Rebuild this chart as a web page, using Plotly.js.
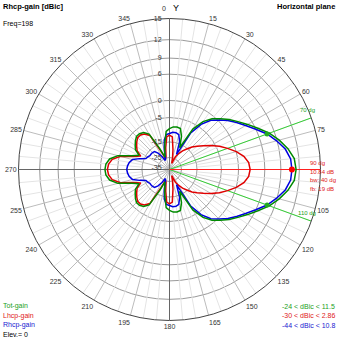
<!DOCTYPE html>
<html><head><meta charset="utf-8">
<script src="https://cdn.plot.ly/plotly-3.0.1.min.js"></script>
<style>html,body{margin:0;padding:0;background:#fff;}#chart{width:339px;height:339px;}</style>
</head><body><div id="chart"></div>
<script>
// azimuth angles (deg, 0 = top, clockwise)
const angles = [0,5,10,15,20,25,30,35,40,45,50,55,60,65,70,75,80,85,
  90,95,100,105,110,115,120,125,130,135,140,145,150,155,160,165,170,175,
  180,185,190,195,200,205,210,215,220,225,230,235,240,245,250,255,260,265,
  270,275,280,285,290,295,300,305,310,315,320,325,330,335,340,345,350,355];
// Tot-gain (dBic)
const totGain = [-9.0,-8.25,-8.1,-8.4,-11.4,-16.9,-6.8,-2.95,-0.77,0.73,2.2,3.5,4.95,6.44,8.08,9.38,10.49,11.29,
  11.5,11.29,10.49,9.38,8.08,6.44,4.95,3.5,2.2,0.73,-0.77,-2.95,-6.8,-16.9,-11.4,-8.4,-8.1,-8.25,
  -9.0,-10.0,-15.4,-20.3,-24.0,-17.3,-9.0,-7.4,-6.8,-6.8,-7.6,-8.6,-9.6,-12.1,-9.3,-4.5,-2.26,-1.4,
  -1.2,-1.4,-2.26,-4.5,-9.3,-12.1,-9.6,-8.6,-7.6,-6.8,-6.8,-7.4,-9.0,-17.3,-24.0,-20.3,-15.4,-10.0];
// Lhcp-gain (dBic)
const lhcpGain = [-11.7,-12.5,-19.3,-25.3,-30.0,-23.4,-20.3,-17.6,-15.4,-12.9,-11.0,-8.8,-6.4,-4.0,-1.97,0.04,1.64,2.59,
  2.86,2.59,1.64,0.04,-1.97,-4.0,-6.4,-8.8,-11.0,-12.9,-15.4,-17.6,-20.3,-23.4,-30.0,-25.3,-19.3,-12.5,
  -11.7,-12.5,-18.2,-23.9,-25.3,-19.3,-9.6,-8.0,-7.4,-7.4,-8.25,-9.3,-10.4,-12.9,-10.0,-5.4,-3.05,-2.17,
  -1.88,-2.17,-3.05,-5.4,-10.0,-12.9,-10.4,-9.3,-8.25,-7.4,-7.4,-8.0,-9.6,-19.3,-25.3,-23.9,-18.2,-12.5];
// Rhcp-gain (dBic)
const rhcpGain = [-11.0,-10.4,-10.4,-11.0,-14.0,-21.5,-8.6,-4.0,-1.3,0.3,1.8,3.13,4.46,5.98,7.65,8.91,10.05,10.71,
  10.84,10.71,10.05,8.91,7.65,5.98,4.46,3.13,1.8,0.3,-1.3,-4.0,-8.6,-21.5,-14.0,-11.0,-10.4,-10.4,
  -11.0,-11.4,-13.7,-19.3,-25.3,-26.7,-22.7,-19.3,-17.3,-16.9,-16.9,-16.9,-16.3,-15.8,-12.9,-10.0,-9.0,-8.5,
  -8.25,-8.5,-9.0,-10.0,-12.9,-15.8,-16.3,-16.9,-16.9,-16.9,-17.3,-19.3,-22.7,-26.7,-25.3,-19.3,-13.7,-11.4];
// scale rings (dBic) and their labels
const ringValues = [15,12,9,6,0,-5,-15,-25,-35];
const ringLabels = ['15','12','9','6','0','-5','-15','-25','-35'];
// angular labels (0 is written beside the "Y" marker)
const angleTicks = [0,15,30,45,60,75,90,105,120,135,150,165,180,195,210,225,240,255,270,285,300,315,330,345];
const angleTickLabels = ['','15','30','45','60','75','','105','120','135','150','165','180','195','210','225','240','255','270','285','300','315','330','345'];
// beam markers
const maxAngle = 90;
const bwAngles = [70,110];

// MMANA-like log scale: dB -> normalized radius (15 dB = outer circle)
function rs(db){ return Math.max(0, 0.5563*Math.exp(0.0454*db) - 0.0993); }

const closeA = angles.concat([angles[0]]);
function curve(vals, color){
  return {type:'scatterpolar', mode:'lines', theta: closeA, r: vals.concat([vals[0]]).map(rs),
    line:{color:color, width:1.5}, hoverinfo:'skip', showlegend:false};
}
// minor 5-degree spokes
const spT=[], spR=[];
for (let a=0;a<360;a+=5){ if (a%15!==0){ spT.push(a,a,null); spR.push(rs(-15),1,null);} }
const majT=[], majR=[];
for (let a=0;a<360;a+=15){ majT.push(a,a,null); majR.push(0,1,null); }

const gi = a => angles.indexOf(a);
const traces = [
  {type:'scatterpolar',mode:'lines',theta:spT,r:spR,line:{color:'#e4e4e4',width:1},hoverinfo:'skip',showlegend:false},
  {type:'scatterpolar',mode:'lines',theta:majT,r:majR,line:{color:'#bcbcbc',width:1},hoverinfo:'skip',showlegend:false},
  {type:'scatterpolar',mode:'lines',theta:[0,180,null,90,270],r:[1,1,null,1,1],line:{color:'#666',width:1},hoverinfo:'skip',showlegend:false},
  {type:'scatterpolar',mode:'lines',theta:[bwAngles[0],bwAngles[0],null,bwAngles[1],bwAngles[1]],r:[0,1,null,0,1],line:{color:'#33cc33',width:1},hoverinfo:'skip',showlegend:false},
  {type:'scatterpolar',mode:'lines',theta:[maxAngle,maxAngle],r:[0,1],line:{color:'#ff2020',width:1},hoverinfo:'skip',showlegend:false},
  curve(lhcpGain,'#e00000'),
  curve(rhcpGain,'#0000e0'),
  curve(totGain,'#008a00'),
  {type:'scatterpolar',mode:'markers',theta:bwAngles,r:bwAngles.map(a=>rs(rhcpGain[gi(a)])),marker:{color:'#22aa22',size:5},hoverinfo:'skip',showlegend:false},
  {type:'scatterpolar',mode:'markers',theta:[maxAngle],r:[rs(rhcpGain[gi(maxAngle)])],marker:{color:'#ff0000',size:6},hoverinfo:'skip',showlegend:false}
];

const F = 'Liberation Sans, Arial, sans-serif';
function ann(text,x,y,color,xa,bold,size){
  return {text: bold?('<b>'+text+'</b>'):text, x:x/339, y:1-y/339, xref:'paper', yref:'paper', xanchor:xa||'left', yanchor:'middle',
    showarrow:false, font:{family:F,size:size||7,color:color||'#000'}, borderpad:0};
}
const annotations = [
  ann('Rhcp-gain [dBic]',2,6,'#000','left',true,7.5),
  ann('Freq=198',2,24.5,'#000','left',false,7),
  ann('Horizontal plane',336,6,'#000','right',true,7.5),
  ann('0',163.5,8,'#333','center',false,7),
  ann('Y',175.5,8,'#000','center',false,9),
  ann('Tot-gain',2,306,'#22a022'),
  ann('Lhcp-gain',2,315.7,'#e02020'),
  ann('Rhcp-gain',2,325,'#2020d0'),
  ann('Elev.= 0',2,334.5,'#000'),
  ann('-24 &lt; dBic &lt; 11.5',336,306,'#22a022','right'),
  ann('-30 &lt; dBic &lt; 2.86',336,315.7,'#e02020','right'),
  ann('-44 &lt; dBic &lt; 10.8',336,325,'#2020d0','right'),
  ann('70 dg',299,110,'#22a022','left',false,6),
  ann('110 dg',297,213,'#22a022','left',false,6),
  ann('90 dg',309,162.7,'#e02020','left',false,6),
  ann('10.84 dB',309,171.7,'#e02020','left',false,6),
  ann('bw: 40 dg',309,180,'#e02020','left',false,6),
  ann('fb: 19 dB',309,189.3,'#e02020','left',false,6)
];

const layout = {
  width:339, height:339, margin:{l:0,r:0,t:0,b:0,pad:0},
  paper_bgcolor:'#fff', showlegend:false, font:{family:F,size:7,color:'#333'},
  polar:{
    domain:{x:[18.5/339,320.5/339], y:[18.5/339,320.5/339]},
    bgcolor:'#fff',
    angularaxis:{rotation:90, direction:'clockwise', tickmode:'array', tickvals:angleTicks, ticktext:angleTickLabels,
      showgrid:false, showline:true, linecolor:'#444', linewidth:1, ticks:'', tickfont:{family:F,size:7,color:'#333'}},
    radialaxis:{range:[0,1], angle:90, tickmode:'array', tickvals:ringValues.map(rs), ticktext:ringLabels,
      showgrid:true, gridcolor:'#9a9a9a', gridwidth:1, showline:false, ticks:'outside', ticklen:5, tickcolor:'rgba(0,0,0,0)',
      side:'counterclockwise', tickangle:90, tickfont:{family:F,size:7,color:'#333'}}
  },
  annotations: annotations
};
Plotly.newPlot('chart', traces, layout, {staticPlot:true, displayModeBar:false});
</script></body></html>
